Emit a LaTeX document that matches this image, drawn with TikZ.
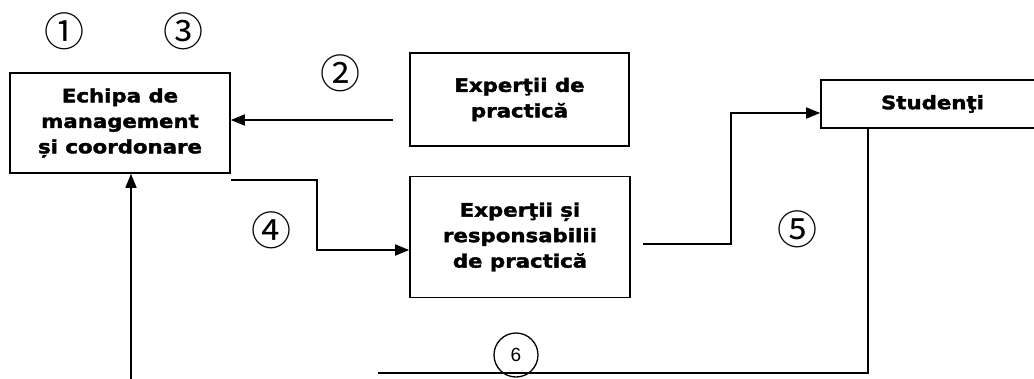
\documentclass[tikz,border=0pt]{standalone}
\usepackage{fontspec}
\setmainfont{DejaVu Sans}
\newfontfamily\boxfont{DejaVu Sans Bold}[FakeStretch=1.15,FakeBold=2]
\newfontfamily\numfont{Noto Sans CJK SC}
\newfontfamily\sixfont{Liberation Sans}
\usetikzlibrary{arrows.meta}
\begin{document}
\begin{tikzpicture}[x=1pt,y=-1pt,
  box/.style={draw,line width=1.6pt,inner sep=0pt,align=center,
    font=\boxfont\fontsize{18.5}{25.5}\selectfont},
  num/.style={inner sep=0pt,font=\numfont\fontsize{40}{40}\selectfont},
  conn/.style={line width=1.6pt},
  arr/.style={conn,-{Triangle[length=14pt,width=11pt]}}]
\useasboundingbox (0,0) rectangle (1034,378);
% boxes
\node[box,minimum width=220pt,minimum height=100pt] (echipa) at (120,123)
  {Echipa de\\management\\și coordonare};
\node[box,minimum width=219pt,minimum height=93pt] (exp1) at (519.5,99.5)
  {Experţii de\\practică};
\node[box,minimum width=220pt,minimum height=121pt] (exp2) at (520,237)
  {Experţii și\\responsabilii\\de practică};
\node[box,minimum width=223pt,minimum height=48pt] (stud) at (932.5,104)
  {Studenţi};
% numbers
\node[num] (n1) at (64,31) {①};
\node[num] (n3) at (183,31) {③};
\node[num] (n2) at (340,73) {②};
\node[num] (n4) at (271,230) {④};
\node[num] (n5) at (797,229) {⑤};
\node[draw,circle,line width=1.3pt,minimum size=44pt,inner sep=0pt,
  font=\sixfont\fontsize{19}{19}\selectfont] (n6) at (516,355) {6};
% connector coordinates
\coordinate (a2s) at (393,120);
\coordinate (a4s) at (231,180);
\coordinate (a4m) at (317,180);
\coordinate (a4n) at (317,250);
\coordinate (a5s) at (643,244);
\coordinate (a5m) at (731,244);
\coordinate (a5n) at (731,113);
\coordinate (a6t) at (868,373);
\coordinate (a6e) at (378,373);
\coordinate (a7s) at (131,380);
% connectors
\draw[arr] (a2s) -- (echipa.east |- a2s);
\draw[arr] (a4s) -- (a4m) -- (a4n) -- (exp2.west |- a4n);
\draw[arr] (a5s) -- (a5m) -- (a5n) -- (stud.west |- a5n);
\draw[conn] (stud.south -| a6t) -- (a6t) -- (a6e);
\draw[arr] (a7s) -- (echipa.south -| a7s);
\end{tikzpicture}
\end{document}
